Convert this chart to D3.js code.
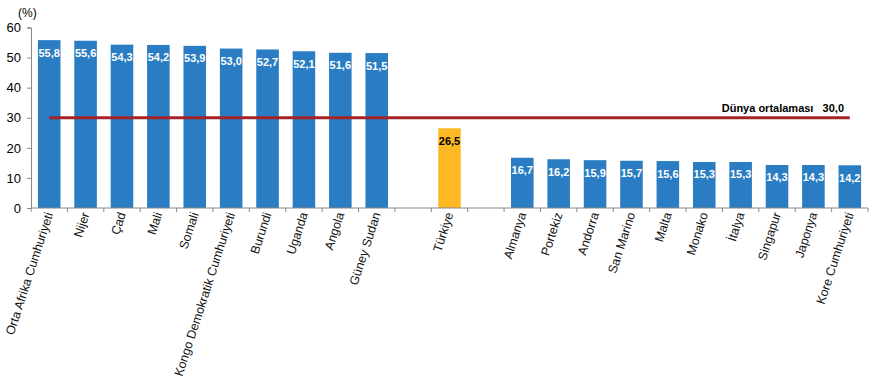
<!DOCTYPE html>
<html><head><meta charset="utf-8">
<script src="https://cdn.jsdelivr.net/npm/d3@7"></script>
<style>body{margin:0;background:#fff;} svg{display:block;font-family:Arial,"Liberation Sans",sans-serif;}</style>
</head><body>
<svg id="chart" width="877" height="379"></svg>
<script>
const categories = ["Orta Afrika Cumhuriyeti","Nijer","Çad","Mali","Somali","Kongo Demokratik Cumhuriyeti","Burundi","Uganda","Angola","Güney Sudan","gap1","Türkiye","gap2","Almanya","Portekiz","Andorra","San Marino","Malta","Monako","İtalya","Singapur","Japonya","Kore Cumhuriyeti"];
const values = [55.8,55.6,54.3,54.2,53.9,53.0,52.7,52.1,51.6,51.5,null,26.5,null,16.7,16.2,15.9,15.7,15.6,15.3,15.3,14.3,14.3,14.2];
const highlight = ["Türkiye"];
const worldAverage = 30.0;
const worldLabel = "Dünya ortalaması";
const yTicks = [0,10,20,30,40,50,60];

(function(){
const svg = d3.select("#chart");
const mLeft = 31, mRight = 868, mTop = 27.5, mBottom = 208;
const x = d3.scaleBand().domain(categories).range([mLeft, mRight]).paddingInner(0.38).paddingOuter(0.19);
const xs = d3.scaleBand().domain(categories).range([mLeft, mRight]);
const y = d3.scaleLinear().domain([0,60]).range([mBottom, mTop]);
const fmt = v => d3.format(".1f")(v).replace(".", ",");

// y axis
const ya = svg.append("g").attr("transform",`translate(${mLeft},0)`)
  .call(d3.axisLeft(y).tickValues(yTicks).tickSize(4).tickPadding(6));
ya.select(".domain").attr("stroke","#888");
ya.selectAll(".tick line").attr("stroke","#888");
ya.selectAll(".tick text").attr("font-size",13).attr("fill","#000").attr("font-family","Arial, Liberation Sans, sans-serif");

svg.append("text").attr("x",18).attr("y",17).attr("font-size",12).attr("fill","#000").text("(%)");

// bars
const data = categories.map((c,i)=>({c, v: values[i]})).filter(d=>d.v!=null);
svg.selectAll("rect.bar").data(data).join("rect")
  .attr("x",d=>x(d.c)).attr("width",x.bandwidth())
  .attr("y",d=>y(d.v)).attr("height",d=>y(0)-y(d.v))
  .attr("fill",d=>highlight.includes(d.c)?"#FDB924":"#2A7DC2");

// value labels
svg.selectAll("text.val").data(data).join("text")
  .attr("x",d=>x(d.c)+x.bandwidth()/2).attr("y",d=>y(d.v)+16.5)
  .attr("text-anchor","middle").attr("font-size",11).attr("font-weight","bold")
  .attr("fill",d=>highlight.includes(d.c)?"#000":"#fff")
  .text(d=>fmt(d.v));

// x axis
const xa = svg.append("g").attr("transform",`translate(0,${mBottom})`);
xa.append("line").attr("x1",mLeft).attr("x2",mRight).attr("stroke","#888");
const bounds = categories.map(c=>xs(c)).concat([mRight]);
xa.selectAll("line.t").data(bounds).join("line")
  .attr("x1",d=>d).attr("x2",d=>d).attr("y1",0).attr("y2",4).attr("stroke","#888");
xa.selectAll("text.lab").data(categories.filter(c=>!c.startsWith("gap"))).join("text")
  .attr("transform",c=>`translate(${xs(c)+xs.bandwidth()/2+4},6) rotate(-72)`)
  .attr("text-anchor","end").attr("font-size",12.4).attr("fill","#111")
  .text(c=>c);

// world average line
const first = categories[0], last = categories[categories.length-1];
svg.append("line")
  .attr("x1",x(first)+x.bandwidth()/2).attr("x2",x(last)+x.bandwidth()/2)
  .attr("y1",y(worldAverage)).attr("y2",y(worldAverage))
  .attr("stroke","#A52227").attr("stroke-width",3.2);
svg.append("text").attr("x",844).attr("y",y(worldAverage)-6).attr("text-anchor","end")
  .attr("font-size",11).attr("font-weight","bold").attr("fill","#000")
  .attr("xml:space","preserve")
  .text(worldLabel + "   " + fmt(worldAverage));
})();
</script>
</body></html>
